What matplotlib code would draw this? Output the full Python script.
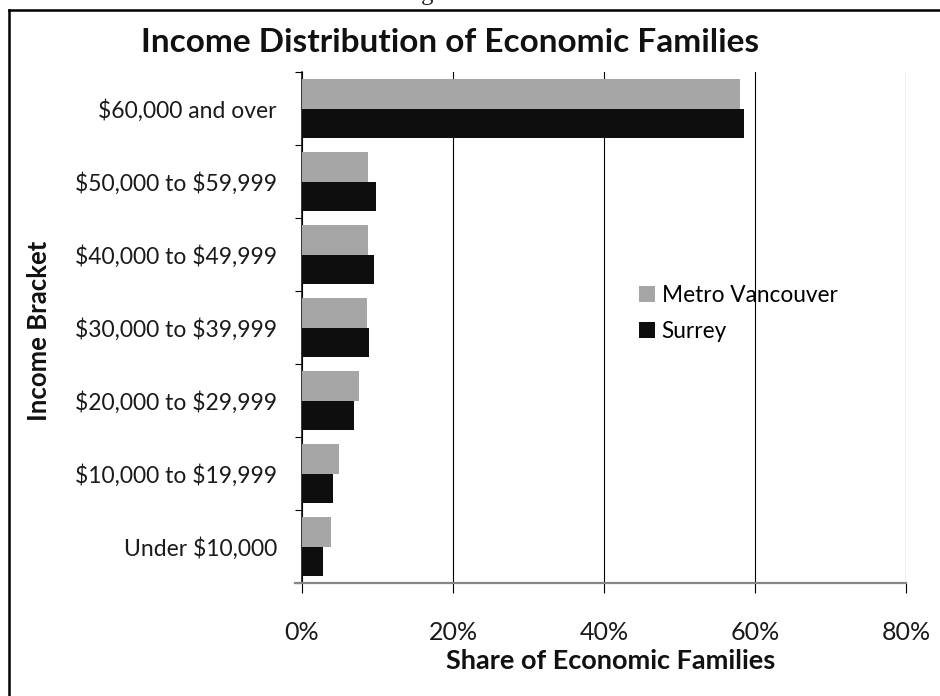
import matplotlib
matplotlib.use("Agg")
import matplotlib.pyplot as plt
from matplotlib.lines import Line2D
import numpy as np

plt.rcParams["text.parse_math"] = False

# Income brackets, bottom to top
brackets = [
    "Under $10,000",
    "$10,000 to $19,999",
    "$20,000 to $29,999",
    "$30,000 to $39,999",
    "$40,000 to $49,999",
    "$50,000 to $59,999",
    "$60,000 and over",
]
# Share of economic families (%)
metro_vancouver = [3.8, 4.9, 7.5, 8.6, 8.7, 8.7, 58.0]
surrey = [2.8, 4.1, 6.9, 8.9, 9.5, 9.8, 58.5]
x_ticks = [0, 20, 40, 60, 80]
x_tick_labels = ["0%", "20%", "40%", "60%", "80%"]

W, H = 940, 696
fig = plt.figure(figsize=(W / 100, H / 100), dpi=100)
fig.patch.set_facecolor("white")

ax = fig.add_axes([302 / W, 1 - 583 / H, (906 - 302) / W, (583 - 72) / H])

y = np.arange(len(brackets))
bar_h = 0.4
ax.barh(y + bar_h / 2, metro_vancouver, height=bar_h, color="#a6a6a6",
        label="Metro Vancouver", zorder=3)
ax.barh(y - bar_h / 2, surrey, height=bar_h, color="#0e0e0e",
        label="Surrey", zorder=3)

ax.set_xlim(0, 80)
ax.set_ylim(-0.5, len(brackets) - 0.5)

# x axis
ax.set_xticks(x_ticks)
ax.set_xticklabels(x_tick_labels, family="Lato", fontsize=18, color="#1a1a1a")
ax.tick_params(axis="x", direction="out", length=7, width=0.8, color="black", pad=20)
ax.grid(axis="x", color="black", linewidth=0.8, zorder=1)
ax.set_axisbelow(True)

# y axis: ticks between categories, labels at category centres
ax.set_yticks(np.arange(-0.5, len(brackets), 1.0))
ax.set_yticklabels([])
ax.tick_params(axis="y", which="major", direction="out", length=5, width=0.8, color="black")
ax.set_yticks(y, minor=True)
ax.set_yticklabels(brackets, minor=True, family="Lato", fontsize=16.5, color="#1a1a1a")
ax.tick_params(axis="y", which="minor", length=0, pad=18)

for s in ("top", "right"):
    ax.spines[s].set_visible(False)
ax.spines["left"].set_color("black")
ax.spines["left"].set_linewidth(1.1)
ax.spines["bottom"].set_color("#858585")
ax.spines["bottom"].set_linewidth(1.6)
ax.spines["bottom"].set_bounds(-0.95, 80)

ax.legend(loc="center left", bbox_to_anchor=(639 / W, 1 - 313.5 / H),
          bbox_transform=fig.transFigure, frameon=False, borderpad=0,
          borderaxespad=0, handlelength=0.7, handleheight=0.7,
          handletextpad=0.3, labelspacing=0.65,
          prop={"family": "Lato", "size": 16.3})

# titles and axis labels
fig.text(450 / W, 1 - 43 / H, "Income Distribution of Economic Families",
         family="Lato", weight="bold", fontsize=24, ha="center", va="center",
         color="#111111")
fig.text(611 / W, 1 - 661 / H, "Share of Economic Families",
         family="Lato", weight="bold", fontsize=19.5, ha="center", va="center",
         color="#111111")
fig.text(39 / W, 1 - 331 / H, "Income Bracket", family="Lato", weight="bold",
         fontsize=18.5, ha="center", va="center", rotation=90, color="#111111")

# frame around the figure and the caption above it
fig.add_artist(Line2D([9 / W, 9 / W], [-0.01, 1 - 10 / H], color="black",
                      linewidth=1.8, transform=fig.transFigure))
fig.add_artist(Line2D([9 / W, 1.01], [1 - 10 / H, 1 - 10 / H], color="black",
                      linewidth=1.8, transform=fig.transFigure))
fig.text(442 / W, 1.0, "Figure 3", family="Liberation Serif",
         fontsize=18, ha="center", va="baseline", color="#222222")

fig.savefig("out.png", dpi=100)
